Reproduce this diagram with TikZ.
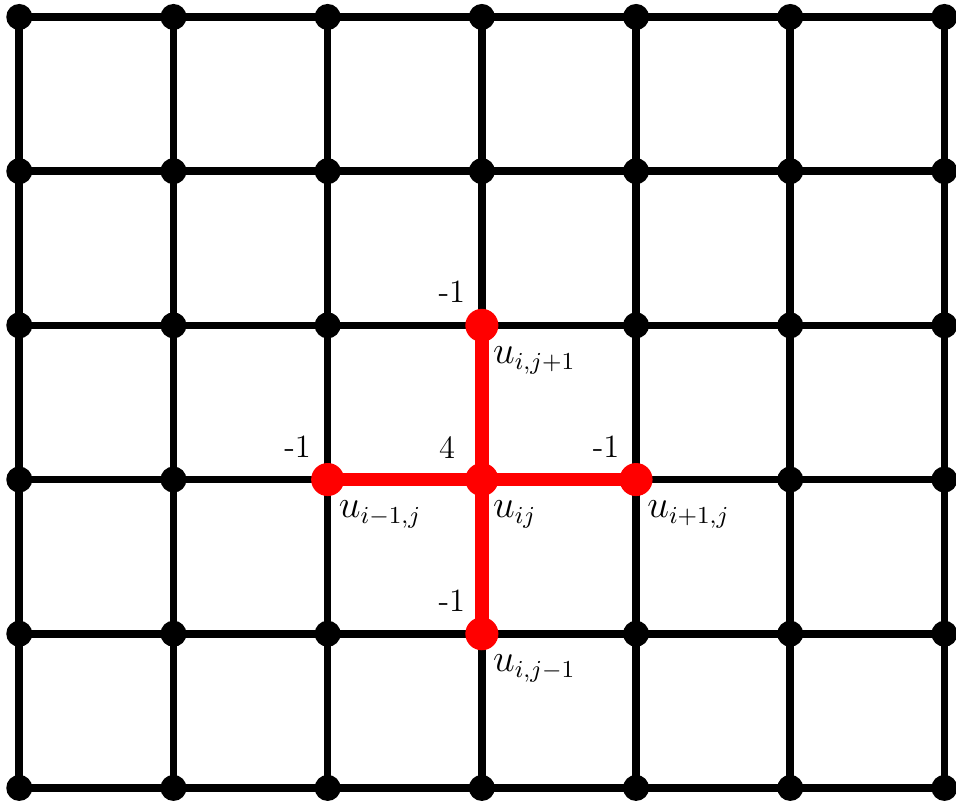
\documentclass[tikz,border=0pt]{standalone}
\usepackage{tikz}
\usetikzlibrary{positioning, calc}
\definecolor{stencilred}{RGB}{255, 0, 0}

\begin{document}
\begin{tikzpicture}[
  gridline/.style={line width=2.8pt, black},
  griddot/.style={circle, fill=black, inner sep=0pt, minimum size=9.6pt},
  stencilline/.style={line width=5pt, stencilred},
  stencildot/.style={circle, fill=stencilred, inner sep=0pt, minimum size=12.2pt},
  weight/.style={anchor=south east, inner sep=0pt, font=\large},
  ulabel/.style={anchor=north west, inner sep=0pt, font=\fontsize{13.3}{16}\selectfont}
]
  \useasboundingbox (-0.25,-0.22) rectangle (12.15,10.22);

  % Grid points
  \foreach \i in {0,...,6} {
    \foreach \j in {0,...,5} {
      \coordinate (g-\i-\j) at (2*\i, 2*\j);
    }
  }

  % Grid lines
  \foreach \i in {0,...,6} {
    \draw[gridline] (g-\i-0) -- (g-\i-5);
  }
  \foreach \j in {0,...,5} {
    \draw[gridline] (g-0-\j) -- (g-6-\j);
  }
  \foreach \i in {0,...,6} {
    \foreach \j in {0,...,5} {
      \node[griddot] (p-\i-\j) at (g-\i-\j) {};
    }
  }

  % Five-point stencil
  \draw[stencilline] (g-2-2) -- (g-4-2);
  \draw[stencilline] (g-3-1) -- (g-3-3);

  \node[stencildot] (center) at (g-3-2) {};
  \node[stencildot] (north) at (g-3-3) {};
  \node[stencildot] (south) at (g-3-1) {};
  \node[stencildot] (west) at (g-2-2) {};
  \node[stencildot] (east) at (g-4-2) {};

  % Weights
  \node[weight] (w-center) at ([shift={(-0.34,0.27)}]center.center) {4};
  \node[weight] (w-north) at ([shift={(-0.21,0.285)}]north.center) {-1};
  \node[weight] (w-south) at ([shift={(-0.21,0.285)}]south.center) {-1};
  \node[weight] (w-west) at ([shift={(-0.21,0.285)}]west.center) {-1};
  \node[weight] (w-east) at ([shift={(-0.21,0.285)}]east.center) {-1};

  % Unknowns
  \node[ulabel] (u-center) at ([shift={(0.14,-0.27)}]center.center) {$u_{ij}$};
  \node[ulabel] (u-north) at ([shift={(0.14,-0.27)}]north.center) {$u_{i,j+1}$};
  \node[ulabel] (u-south) at ([shift={(0.14,-0.27)}]south.center) {$u_{i,j-1}$};
  \node[ulabel] (u-west) at ([shift={(0.14,-0.27)}]west.center) {$u_{i-1,j}$};
  \node[ulabel] (u-east) at ([shift={(0.14,-0.27)}]east.center) {$u_{i+1,j}$};
\end{tikzpicture}
\end{document}
